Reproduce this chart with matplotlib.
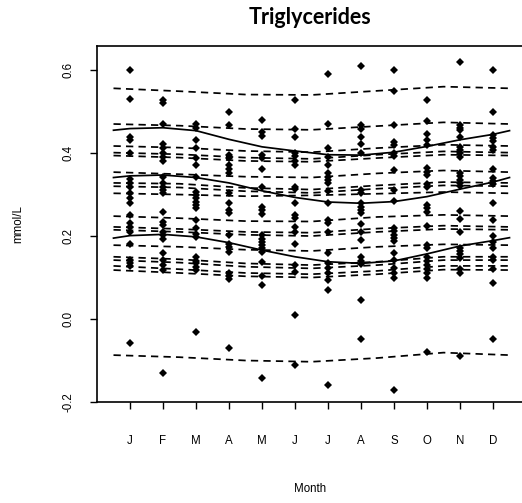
import matplotlib
matplotlib.use("Agg")
import matplotlib.pyplot as plt

months = ["J", "F", "M", "A", "M", "J", "J", "A", "S", "O", "N", "D"]

obs_jan = [0.600, 0.531, 0.439, 0.431, 0.401, 0.338, 0.329, 0.317, 0.304, 0.292, 0.280,
           0.251, 0.231, 0.222, 0.210, 0.180, 0.142, 0.134, 0.128, -0.059]
obs_feb = [0.528, 0.520, 0.469, 0.421, 0.411, 0.399, 0.391, 0.381, 0.343, 0.327, 0.319,
           0.311, 0.303, 0.259, 0.234, 0.227, 0.210, 0.202, 0.194, 0.160, 0.142, 0.130,
           0.118, -0.129]
obs_mar = [0.469, 0.460, 0.431, 0.411, 0.387, 0.371, 0.343, 0.307, 0.299, 0.291, 0.283,
           0.275, 0.267, 0.239, 0.219, 0.206, 0.198, 0.150, 0.141, 0.134, 0.126, 0.118,
           -0.031]
obs_apr = [0.499, 0.467, 0.395, 0.387, 0.371, 0.361, 0.352, 0.303, 0.280, 0.263, 0.255,
           0.202, 0.182, 0.174, 0.162, 0.112, 0.104, 0.096, -0.069]
obs_may = [0.479, 0.451, 0.441, 0.395, 0.387, 0.361, 0.319, 0.271, 0.263, 0.252, 0.202,
           0.194, 0.186, 0.178, 0.170, 0.162, 0.138, 0.104, 0.081, -0.141]
obs_jun = [0.528, 0.457, 0.439, 0.401, 0.393, 0.381, 0.371, 0.319, 0.313, 0.279, 0.251,
           0.243, 0.222, 0.210, 0.180, 0.130, 0.113, 0.010, -0.110]
obs_jul = [0.590, 0.469, 0.411, 0.391, 0.371, 0.351, 0.343, 0.335, 0.327, 0.308, 0.279,
           0.239, 0.232, 0.210, 0.158, 0.135, 0.122, 0.110, 0.095, 0.070, -0.159]
obs_aug = [0.610, 0.467, 0.459, 0.439, 0.422, 0.399, 0.311, 0.303, 0.279, 0.271, 0.263,
           0.255, 0.229, 0.210, 0.190, 0.150, 0.141, 0.133, 0.046, -0.049]
obs_sep = [0.600, 0.550, 0.467, 0.427, 0.419, 0.401, 0.393, 0.360, 0.311, 0.284, 0.219,
           0.211, 0.203, 0.195, 0.187, 0.158, 0.142, 0.124, 0.110, 0.098, -0.170]
obs_oct = [0.528, 0.477, 0.447, 0.431, 0.419, 0.363, 0.355, 0.347, 0.325, 0.319, 0.275,
           0.267, 0.258, 0.224, 0.178, 0.170, 0.150, 0.140, 0.130, 0.120, 0.110, 0.100,
           -0.079]
obs_nov = [0.620, 0.467, 0.461, 0.455, 0.439, 0.415, 0.407, 0.399, 0.391, 0.352, 0.344,
           0.336, 0.328, 0.320, 0.260, 0.240, 0.210, 0.172, 0.164, 0.156, 0.148, 0.120,
           0.110, -0.090]
obs_dec = [0.600, 0.499, 0.443, 0.437, 0.429, 0.415, 0.407, 0.361, 0.340, 0.333, 0.325,
           0.279, 0.239, 0.200, 0.185, 0.170, 0.150, 0.142, 0.120, 0.088, -0.049]
observations = [obs_jan, obs_feb, obs_mar, obs_apr, obs_may, obs_jun,
                obs_jul, obs_aug, obs_sep, obs_oct, obs_nov, obs_dec]

# solid curves, read at month edges and month centres
solid_x = [0.5, 1, 2, 3, 4, 5, 6, 7, 8, 9, 10, 11, 12, 12.5]
solid_upper = [0.455, 0.459, 0.461, 0.454, 0.433, 0.415, 0.405, 0.396, 0.395, 0.402,
               0.416, 0.432, 0.445, 0.454]
solid_mid = [0.341, 0.345, 0.347, 0.341, 0.328, 0.309, 0.293, 0.282, 0.279, 0.283,
             0.295, 0.313, 0.330, 0.341]
solid_lower = [0.195, 0.201, 0.204, 0.198, 0.184, 0.166, 0.150, 0.138, 0.134, 0.140,
               0.157, 0.176, 0.189, 0.196]

# dashed (individual) curves
dash_x = [0.5, 2.5, 4.5, 6.5, 8.5, 10.5, 12.5]
dashed = [
    [0.556, 0.549, 0.541, 0.540, 0.550, 0.560, 0.556],
    [0.470, 0.466, 0.458, 0.456, 0.465, 0.474, 0.470],
    [0.417, 0.413, 0.405, 0.402, 0.412, 0.420, 0.417],
    [0.401, 0.397, 0.389, 0.386, 0.396, 0.404, 0.401],
    [0.394, 0.389, 0.381, 0.379, 0.388, 0.396, 0.394],
    [0.354, 0.349, 0.343, 0.341, 0.351, 0.358, 0.354],
    [0.328, 0.326, 0.316, 0.312, 0.322, 0.330, 0.328],
    [0.320, 0.317, 0.308, 0.304, 0.314, 0.322, 0.320],
    [0.303, 0.300, 0.296, 0.298, 0.302, 0.306, 0.303],
    [0.248, 0.243, 0.236, 0.235, 0.246, 0.251, 0.248],
    [0.222, 0.217, 0.210, 0.208, 0.218, 0.225, 0.222],
    [0.215, 0.210, 0.203, 0.200, 0.210, 0.217, 0.215],
    [0.178, 0.174, 0.167, 0.164, 0.174, 0.180, 0.178],
    [0.150, 0.144, 0.134, 0.130, 0.138, 0.150, 0.150],
    [0.142, 0.136, 0.126, 0.122, 0.130, 0.142, 0.142],
    [0.128, 0.120, 0.111, 0.108, 0.116, 0.128, 0.128],
    [0.118, 0.111, 0.103, 0.100, 0.108, 0.119, 0.118],
    [-0.087, -0.092, -0.100, -0.103, -0.094, -0.081, -0.087],
]

plt.rcParams['font.family'] = ['Liberation Sans', 'DejaVu Sans']

W, H = 522, 503
fig = plt.figure(figsize=(W / 100, H / 100), dpi=100)
ax = fig.add_axes([97 / W, 101 / H, 425.7 / W, 356 / H])

for yv in dashed:
    ax.plot(dash_x, yv, color='black', lw=1.25, dashes=(4.2, 3.0))
for yv in (solid_upper, solid_mid, solid_lower):
    ax.plot(solid_x, yv, color='black', lw=1.25)

for i, vals in enumerate(observations):
    ax.plot([i + 1] * len(vals), vals, linestyle='none', marker='D',
            markersize=4.3, color='black', markeredgewidth=0)

ax.set_xlim(0, 12.9)
ax.set_ylim(-0.2, 0.658)
ax.set_xticks(range(1, 13))
ax.set_xticklabels(months)
ax.set_yticks([-0.2, 0.0, 0.2, 0.4, 0.6])
ax.set_yticklabels(['-0.2', '0.0', '0.2', '0.4', '0.6'], rotation=90, va='center')
ax.tick_params(axis='x', length=5, width=1, pad=19, labelsize=8.3)
ax.tick_params(axis='y', length=5, width=1, pad=11, labelsize=8.3)
for s in ax.spines.values():
    s.set_linewidth(1.2)

fig.text(310 / W, 1 - 18 / H, 'Triglycerides', ha='center', va='center',
         fontsize=15.5, fontweight='bold', family=['Lato', 'DejaVu Sans'])
fig.text(310 / W, 1 - 489 / H, 'Month', ha='center', va='center', fontsize=8.3)
fig.text(18 / W, 1 - 224 / H, 'mmol/L', ha='center', va='center', rotation=90,
         fontsize=8.3)

fig.savefig('out.png', dpi=100)
